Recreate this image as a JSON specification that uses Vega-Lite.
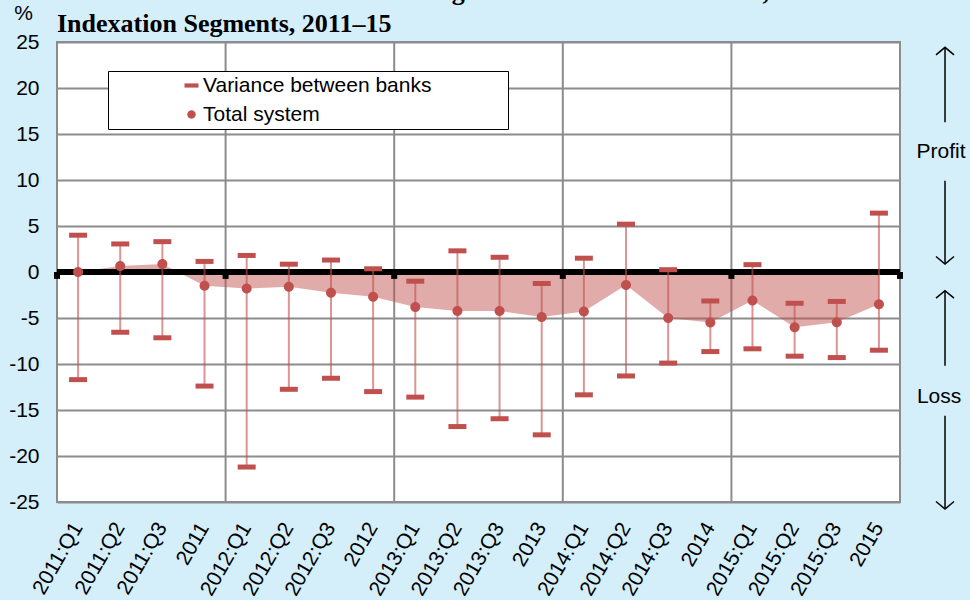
{
  "$schema": "https://vega.github.io/schema/vega-lite/v6.json",
  "background": "#D4EEFA",
  "padding": {"left": 7, "top": -22, "right": 0, "bottom": 0},
  "bounds": "flush",
  "spacing": 0,
  "config": {"font": "Liberation Sans"},
  "datasets": {
    "series": [
      {"period": "2011:Q1", "low": -11.7, "high": 4.0, "total": 0.0},
      {"period": "2011:Q2", "low": -6.55, "high": 3.05, "total": 0.65},
      {"period": "2011:Q3", "low": -7.15, "high": 3.3, "total": 0.87},
      {"period": "2011", "low": -12.4, "high": 1.15, "total": -1.5},
      {"period": "2012:Q1", "low": -21.2, "high": 1.8, "total": -1.8},
      {"period": "2012:Q2", "low": -12.75, "high": 0.85, "total": -1.6},
      {"period": "2012:Q3", "low": -11.55, "high": 1.3, "total": -2.25},
      {"period": "2012", "low": -13.0, "high": 0.35, "total": -2.7},
      {"period": "2013:Q1", "low": -13.6, "high": -1.0, "total": -3.8},
      {"period": "2013:Q2", "low": -16.8, "high": 2.3, "total": -4.25},
      {"period": "2013:Q3", "low": -15.95, "high": 1.6, "total": -4.25},
      {"period": "2013", "low": -17.7, "high": -1.25, "total": -4.9},
      {"period": "2014:Q1", "low": -13.35, "high": 1.5, "total": -4.3},
      {"period": "2014:Q2", "low": -11.3, "high": 5.2, "total": -1.4},
      {"period": "2014:Q3", "low": -9.9, "high": 0.25, "total": -5.0},
      {"period": "2014", "low": -8.65, "high": -3.15, "total": -5.5},
      {"period": "2015:Q1", "low": -8.35, "high": 0.8, "total": -3.1},
      {"period": "2015:Q2", "low": -9.15, "high": -3.4, "total": -6.0},
      {"period": "2015:Q3", "low": -9.3, "high": -3.2, "total": -5.45},
      {"period": "2015", "low": -8.5, "high": 6.4, "total": -3.5}
    ],
    "yearGrid": [{"period": "2012:Q1"}, {"period": "2013:Q1"}, {"period": "2014:Q1"}, {"period": "2015:Q1"}],
    "tickLeft": [{"period": "2011:Q1"}, {"period": "2012:Q1"}, {"period": "2013:Q1"}, {"period": "2014:Q1"}, {"period": "2015:Q1"}],
    "tickRight": [{"period": "2015"}],
    "arrows": [
      {"x": 0.634, "y1": 24.42, "y2": 16.27},
      {"x": 0.634, "y1": 9.92, "y2": 0.87},
      {"x": 0.634, "y1": -2.03, "y2": -10.18},
      {"x": 0.634, "y1": -15.62, "y2": -25.76}
    ],
    "headsUp": [
      {"x": 0.634, "y": 24.42},
      {"x": 0.634, "y": -2.03}
    ],
    "headsDown": [
      {"x": 0.634, "y": 0.87},
      {"x": 0.634, "y": -25.76}
    ],
    "notes": [
      {"x": 0.577, "y": 13.0, "label": "Profit"},
      {"x": 0.55, "y": -13.62, "label": "Loss"}
    ]
  },
  "hconcat": [
    {
      "width": 843,
      "height": 460,
      "view": {"fill": "white", "stroke": "#8c8c8c", "strokeWidth": 2},
      "title": {
        "text": ["Results of an Increase of 1 Percentage Point in the Interest Rate, Total", "Indexation Segments, 2011\u201315"],
        "anchor": "start",
        "frame": "group",
        "font": "Liberation Serif",
        "fontSize": 26,
        "fontWeight": "bold",
        "color": "black",
        "lineHeight": 32,
        "offset": -35
      },
      "layer": [
        {
          "data": {"name": "yearGrid"},
          "mark": {"type": "rule", "stroke": "#8c8c8c", "strokeWidth": 2},
          "encoding": {
            "x": {"field": "period", "type": "nominal", "bandPosition": 0,
              "scale": {"type": "band", "paddingInner": 0, "paddingOuter": 0,
                "domain": ["2011:Q1","2011:Q2","2011:Q3","2011","2012:Q1","2012:Q2","2012:Q3","2012","2013:Q1","2013:Q2","2013:Q3","2013","2014:Q1","2014:Q2","2014:Q3","2014","2015:Q1","2015:Q2","2015:Q3","2015"]},
              "axis": {"title": null, "labelAngle": -60, "labelAlign": "right", "labelBaseline": "middle", "labelFontSize": 21, "labelColor": "black", "labelPadding": 22, "ticks": false, "domain": false, "grid": false, "labelOverlap": false, "labelBound": false, "labelLimit": 300}
            }
          }
        },
        {
          "data": {"name": "series"},
          "mark": {"type": "area", "fill": "#C0504D", "opacity": 0.48},
          "encoding": {
            "x": {"field": "period", "type": "nominal", "bandPosition": 0.5},
            "y": {"field": "total", "type": "quantitative",
              "scale": {"domain": [-25, 25], "nice": false, "zero": false},
              "axis": {"title": "%", "titleAngle": 0, "titleX": -34, "titleY": -29, "titleAlign": "center", "titleBaseline": "middle", "titleFontSize": 21, "titleFontWeight": "normal", "titleColor": "black",
                "values": [-25, -20, -15, -10, -5, 0, 5, 10, 15, 20, 25],
                "labelExpr": "'' + datum.value",
                "labelFontSize": 21, "labelColor": "black", "labelPadding": 18, "ticks": false, "domain": false, "grid": true, "gridColor": "#8c8c8c", "gridWidth": 2}
            },
            "y2": {"datum": 0}
          }
        },
        {
          "data": {"name": "series"},
          "mark": {"type": "rule", "stroke": "black", "strokeWidth": 6},
          "encoding": {"y": {"datum": 0}}
        },
        {
          "data": {"name": "tickLeft"},
          "mark": {"type": "rule", "stroke": "black", "strokeWidth": 6},
          "encoding": {
            "x": {"field": "period", "type": "nominal", "bandPosition": 0},
            "y": {"datum": 0},
            "y2": {"datum": -0.75}
          }
        },
        {
          "data": {"name": "tickRight"},
          "mark": {"type": "rule", "stroke": "black", "strokeWidth": 6},
          "encoding": {
            "x": {"field": "period", "type": "nominal", "bandPosition": 1},
            "y": {"datum": 0},
            "y2": {"datum": -0.75}
          }
        },
        {
          "data": {"name": "series"},
          "mark": {"type": "rule", "stroke": "#C0504D", "strokeWidth": 2, "opacity": 0.6},
          "encoding": {
            "x": {"field": "period", "type": "nominal", "bandPosition": 0.5},
            "y": {"field": "low", "type": "quantitative"},
            "y2": {"field": "high"}
          }
        },
        {
          "data": {"name": "series"},
          "mark": {"type": "tick", "color": "#C0504D", "size": 18, "thickness": 5, "opacity": 1},
          "encoding": {
            "x": {"field": "period", "type": "nominal"},
            "y": {"field": "high", "type": "quantitative"}
          }
        },
        {
          "data": {"name": "series"},
          "mark": {"type": "tick", "color": "#C0504D", "size": 18, "thickness": 5, "opacity": 1},
          "encoding": {
            "x": {"field": "period", "type": "nominal"},
            "y": {"field": "low", "type": "quantitative"}
          }
        },
        {
          "data": {"name": "series"},
          "mark": {"type": "point", "filled": true, "color": "#C0504D", "opacity": 1, "size": 278, "strokeWidth": 0},
          "encoding": {
            "x": {"field": "period", "type": "nominal"},
            "y": {"field": "total", "type": "quantitative"},
            "shape": {
              "datum": "Total system",
              "scale": {"domain": ["Variance between banks", "Total system"], "range": ["M-1,-0.3H1V0.3H-1Z", "M0.6,0A0.6,0.6,0,1,1,-0.6,0A0.6,0.6,0,1,1,0.6,0Z"]},
              "legend": {
                "title": "\u00a0", "titleOrient": "right", "titlePadding": 73, "titleFontSize": 21,
                "orient": "none", "legendX": 51, "legendY": 29,
                "fillColor": "white", "strokeColor": "black",
                "padding": 4, "symbolOffset": 69, "labelOffset": 1, "rowPadding": 7,
                "labelFontSize": 21, "labelColor": "black", "labelLimit": 1000,
                "symbolSize": 196, "symbolFillColor": "#C0504D", "symbolStrokeWidth": 0, "symbolOpacity": 1
              }
            }
          }
        }
      ]
    },
    {
      "width": 71,
      "height": 460,
      "view": {"fill": null, "stroke": null},
      "layer": [
        {
          "data": {"name": "arrows"},
          "mark": {"type": "rule", "stroke": "black", "strokeWidth": 1.5},
          "encoding": {
            "x": {"field": "x", "type": "quantitative", "scale": {"domain": [0, 1]}, "axis": null},
            "y": {"field": "y1", "type": "quantitative", "scale": {"domain": [-25, 25], "nice": false, "zero": false}, "axis": null},
            "y2": {"field": "y2"}
          }
        },
        {
          "data": {"name": "headsUp"},
          "mark": {"type": "point", "shape": "M-1,0.833L0,0L1,0.833", "filled": false, "stroke": "black", "strokeWidth": 1.5, "size": 324, "opacity": 1},
          "encoding": {
            "x": {"field": "x", "type": "quantitative"},
            "y": {"field": "y", "type": "quantitative"}
          }
        },
        {
          "data": {"name": "headsDown"},
          "mark": {"type": "point", "shape": "M-1,-0.833L0,0L1,-0.833", "filled": false, "stroke": "black", "strokeWidth": 1.5, "size": 324, "opacity": 1},
          "encoding": {
            "x": {"field": "x", "type": "quantitative"},
            "y": {"field": "y", "type": "quantitative"}
          }
        },
        {
          "data": {"name": "notes"},
          "mark": {"type": "text", "fontSize": 21, "color": "black", "font": "Liberation Sans"},
          "encoding": {
            "x": {"field": "x", "type": "quantitative"},
            "y": {"field": "y", "type": "quantitative"},
            "text": {"field": "label"}
          }
        }
      ]
    }
  ]
}
